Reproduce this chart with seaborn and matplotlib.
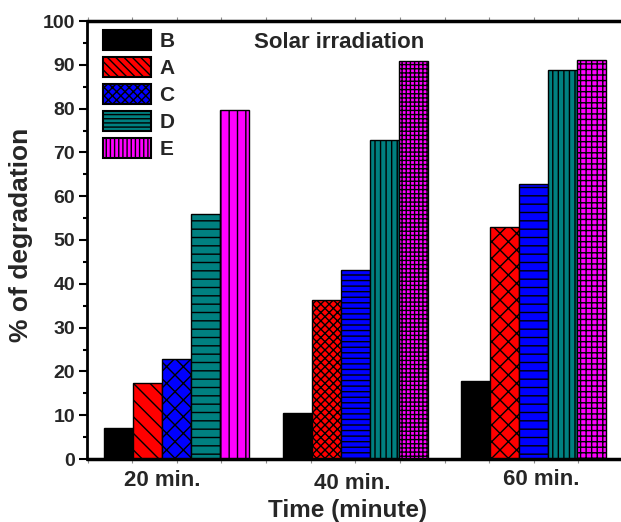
import matplotlib
matplotlib.use("Agg")
import matplotlib.pyplot as plt
import matplotlib.transforms as mtransforms
from matplotlib.patches import Patch
from matplotlib.ticker import MultipleLocator
import seaborn as sns
import pandas as pd

# ---- data ----
times = ["20 min.", "40 min.", "60 min."]
samples = ["B", "A", "C", "D", "E"]
B = [7.0, 10.5, 17.8]
A = [17.4, 36.3, 53.0]
C = [22.8, 43.2, 62.8]
D = [55.9, 72.8, 88.8]
E = [79.6, 90.9, 91.0]
y_ticks = [0, 10, 20, 30, 40, 50, 60, 70, 80, 90, 100]
title = "Solar irradiation"
xlabel = "Time (minute)"
ylabel = "% of degradation"

series = {"B": B, "A": A, "C": C, "D": D, "E": E}
df = pd.DataFrame(
    [(t, s, series[s][i]) for s in samples for i, t in enumerate(times)],
    columns=["time", "sample", "value"],
)

colors = {"B": "#000000", "A": "#FF0000", "C": "#0000FF", "D": "#008080", "E": "#FF00FF"}
hatches = {
    "B": ["", "", ""],
    "A": ["\\\\", "xxxx", "xx"],
    "C": ["xx", "---", "--"],
    "D": ["--", "|||", "|||"],
    "E": ["||", "++++", "+++"],
}
legend_hatches = {"B": "", "A": "\\\\\\\\", "C": "xxxx", "D": "----", "E": "||||"}

sns.set_theme(style="ticks")
plt.rcParams["font.family"] = ["Liberation Sans", "DejaVu Sans"]
plt.rcParams["font.weight"] = "bold"
plt.rcParams["hatch.color"] = "black"
plt.rcParams["hatch.linewidth"] = 1.0

W, H = 621, 522
fig = plt.figure(figsize=(W / 100, H / 100), dpi=100)
left, right, top, bottom = 87.5, 623.0, 21.0, 459.0
ax = fig.add_axes([left / W, 1 - bottom / H, (right - left) / W, (bottom - top) / H])

sns.barplot(
    data=df, x="time", y="value", hue="sample", order=times, hue_order=samples,
    palette=colors, width=0.812, saturation=1, edgecolor="black", linewidth=1.0,
    errorbar=None, legend=False, ax=ax,
)

for si, s in enumerate(samples):
    for ti, bar in enumerate(ax.containers[si]):
        bar.set_hatch(hatches[s][ti])
        bar.set_edgecolor("black")

ax.set_xlim(-0.5, 2.5)
ax.set_ylim(0, 100)
ax.set_yticks(y_ticks)
ax.yaxis.set_minor_locator(MultipleLocator(5))
ax.set_xticks(range(len(times)))
ax.set_xticklabels(times)
ax.xaxis.set_minor_locator(MultipleLocator(0.25))

ax.tick_params(axis="y", which="major", direction="out", length=6, width=1.5,
               labelsize=14, pad=3, color="black")
ax.tick_params(axis="y", which="minor", direction="out", length=3, width=1.5, color="black")
ax.tick_params(axis="x", which="both", direction="out", length=3, width=0.8,
               color="0.55", top=True, labelsize=16, pad=5)

for lab in ax.get_yticklabels():
    lab.set_fontweight("bold")
offsets = [(-14, 0), (-2.5, -3), (7.5, 1)]
for lab, (dx, dy) in zip(ax.get_xticklabels(), offsets):
    lab.set_fontweight("bold")
    lab.set_transform(lab.get_transform() + mtransforms.ScaledTranslation(dx / 100, dy / 100, fig.dpi_scale_trans))

ax.spines["right"].set_visible(False)
ax.spines["left"].set_linewidth(2)
ax.spines["bottom"].set_linewidth(2.5)
ax.spines["top"].set_linewidth(2.5)
for sp in ax.spines.values():
    sp.set_color("black")

ax.set_xlabel(xlabel, fontsize=17.5, fontweight="bold")
ax.xaxis.label.set_va("center")
ax.xaxis.set_label_coords((348 - left) / (right - left), -(511 - bottom) / (bottom - top))
ax.set_ylabel(ylabel, fontsize=19, fontweight="bold")
ax.yaxis.label.set_va("center")
ax.yaxis.set_label_coords((21 - left) / (right - left), (bottom - 235) / (bottom - top))

handles = [Patch(facecolor=colors[s], edgecolor="black", linewidth=1.5, hatch=legend_hatches[s]) for s in samples]
ax.legend(handles, samples, loc="upper left", bbox_to_anchor=(103 / W, 1 - 30 / H),
          bbox_transform=fig.transFigure, frameon=False, borderpad=0, borderaxespad=0,
          handlelength=2.3, handleheight=1.13, labelspacing=0.27, handletextpad=0.4,
          prop=dict(size=15, weight="bold"))

fig.text(339 / W, 1 - 43 / H, title, ha="center", va="center", fontsize=16, fontweight="bold")

fig.savefig("out.png", dpi=100)
